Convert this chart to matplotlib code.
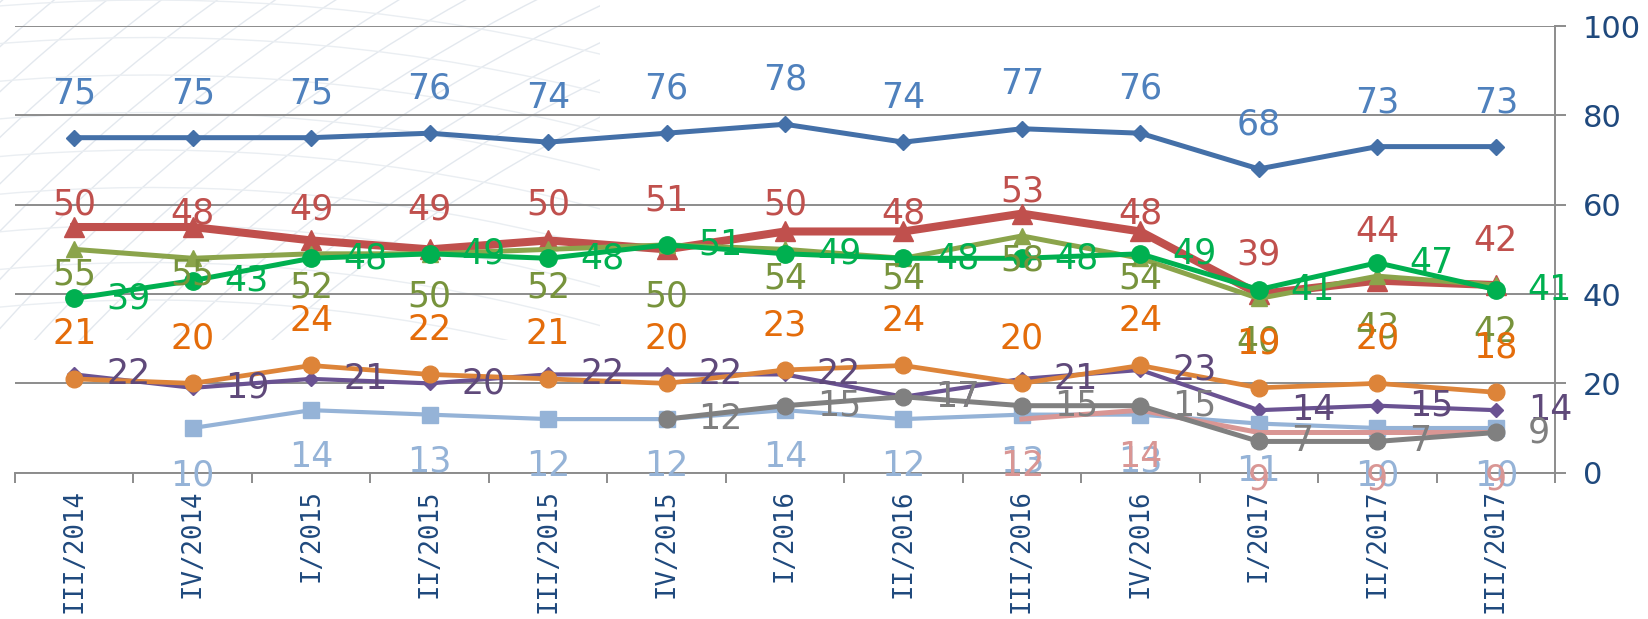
import numpy as np
import matplotlib
matplotlib.use('Agg')
import matplotlib.pyplot as plt
from matplotlib.patches import Arc, Rectangle

nan = np.nan

quarters = ['III/2014', 'IV/2014', 'I/2015', 'II/2015', 'III/2015', 'IV/2015',
            'I/2016', 'II/2016', 'III/2016', 'IV/2016', 'I/2017', 'II/2017', 'III/2017']

blue_vals = [75, 75, 75, 76, 74, 76, 78, 74, 77, 76, 68, 73, 73]
red_vals = [55, 55, 52, 50, 52, 50, 54, 54, 58, 54, 40, 43, 42]
olive_vals = [50, 48, 49, 49, 50, 51, 50, 48, 53, 48, 39, 44, 42]
green_vals = [39, 43, 48, 49, 48, 51, 49, 48, 48, 49, 41, 47, 41]
purple_vals = [22, 19, 21, 20, 22, 22, 22, 17, 21, 23, 14, 15, 14]
orange_vals = [21, 20, 24, 22, 21, 20, 23, 24, 20, 24, 19, 20, 18]
ltblue_vals = [nan, 10, 14, 13, 12, 12, 14, 12, 13, 13, 11, 10, 10]
pink_vals = [nan, nan, nan, nan, nan, nan, nan, nan, 12, 14, 9, 9, 9]
gray_vals = [nan, nan, nan, nan, nan, 12, 15, 17, 15, 15, 7, 7, 9]

navy = '#1F497D'
grid_c = '#8C8C8C'
W, H = 1648, 619

fig = plt.figure(figsize=(W / 100, H / 100), dpi=100)
ax = fig.add_axes([15 / W, 1 - 472.7 / H, 1540 / W, 446.7 / H])
ax.patch.set_alpha(0)

# faint swirl in the background, top left corner only
clip = Rectangle((0, 1 - 340 / H), 600 / W, 340 / H, transform=fig.transFigure,
                 visible=False)
fig.add_artist(clip)
swirls = [((1300, 1500), np.linspace(1550, 2050, 16), '#e3e8ee'),
          ((150, 1900), np.linspace(1600, 1900, 9), '#eaeef2')]
for (cx, cy), radii, c in swirls:
    for r in radii:
        arc = Arc((cx / W, 1 - cy / H), 2 * r / W, 2 * r / H,
                  theta1=60, theta2=180, transform=fig.transFigure,
                  color=c, lw=1.0, zorder=-5)
        fig.add_artist(arc)
        arc.set_clip_path(clip)

x = np.arange(len(quarters))

# (values, line colour, lw, marker, ms, label colour, placement)
series = [
    (blue_vals, '#4470A8', 3.6, 'D', 8.5, '#4F81BD', 'above'),
    (red_vals, '#C0504D', 5.8, '^', 14, '#77933C', 'below'),
    (olive_vals, '#8BA44B', 3.6, '^', 11.5, '#C0504D', 'above'),
    (green_vals, '#00B050', 3.6, 'o', 12.5, '#00B050', 'right'),
    (purple_vals, '#6A5292', 3.0, 'D', 7.5, '#5F497A', 'right'),
    (orange_vals, '#DD8439', 3.4, 'o', 12, '#E46C0A', 'above'),
    (ltblue_vals, '#95B3D7', 3.0, 's', 11, '#95B3D7', 'below'),
    (pink_vals, '#D99694', 3.6, 'None', 0, '#D99694', 'below'),
    (gray_vals, '#808080', 3.6, 'o', 12, '#7F7F7F', 'right'),
]

for k, (vals, col, lw, mk, ms, lcol, place) in enumerate(series):
    ax.plot(x, vals, color=col, lw=lw, marker=mk, ms=ms, zorder=3 + k * 0.1,
            solid_joinstyle='round')

for k, (vals, col, lw, mk, ms, lcol, place) in enumerate(series):
    for xi, v in zip(x, vals):
        if np.isnan(v):
            continue
        if place == 'above':
            off, ha = (0, 32), 'center'
        elif place == 'below':
            off, ha = (0, -34), 'center'
        else:
            off, ha = (23, 0), 'left'
        ax.annotate(f'{v:.0f}', (xi, v), xytext=off, textcoords='offset points',
                    ha=ha, va='center', fontsize=25, color=lcol,
                    zorder=10 + k * 0.1, annotation_clip=False)

ax.set_xlim(-0.5, 12.5)
ax.set_ylim(0, 100)
ax.set_yticks(range(0, 101, 20))
ax.yaxis.tick_right()
ax.yaxis.grid(True, color=grid_c, lw=1.4)
ax.set_axisbelow(True)
ax.tick_params(axis='y', which='major', direction='out', length=8, width=1.4,
               color=grid_c, labelsize=22, labelcolor=navy, pad=12)

ax.set_xticks(x)
ax.set_xticklabels(quarters, rotation=90, family='DejaVu Sans Mono',
                   fontsize=18.5, color=navy)
ax.set_xticks(np.arange(-0.5, 13, 1), minor=True)
ax.tick_params(axis='x', which='major', length=0, pad=12)
ax.tick_params(axis='x', which='minor', direction='out', length=7, width=1.4,
               color=grid_c)

for s in ['left', 'top']:
    ax.spines[s].set_visible(False)
for s in ['right', 'bottom']:
    ax.spines[s].set_color(grid_c)
    ax.spines[s].set_linewidth(1.4)

fig.savefig('out.png', dpi=100)
